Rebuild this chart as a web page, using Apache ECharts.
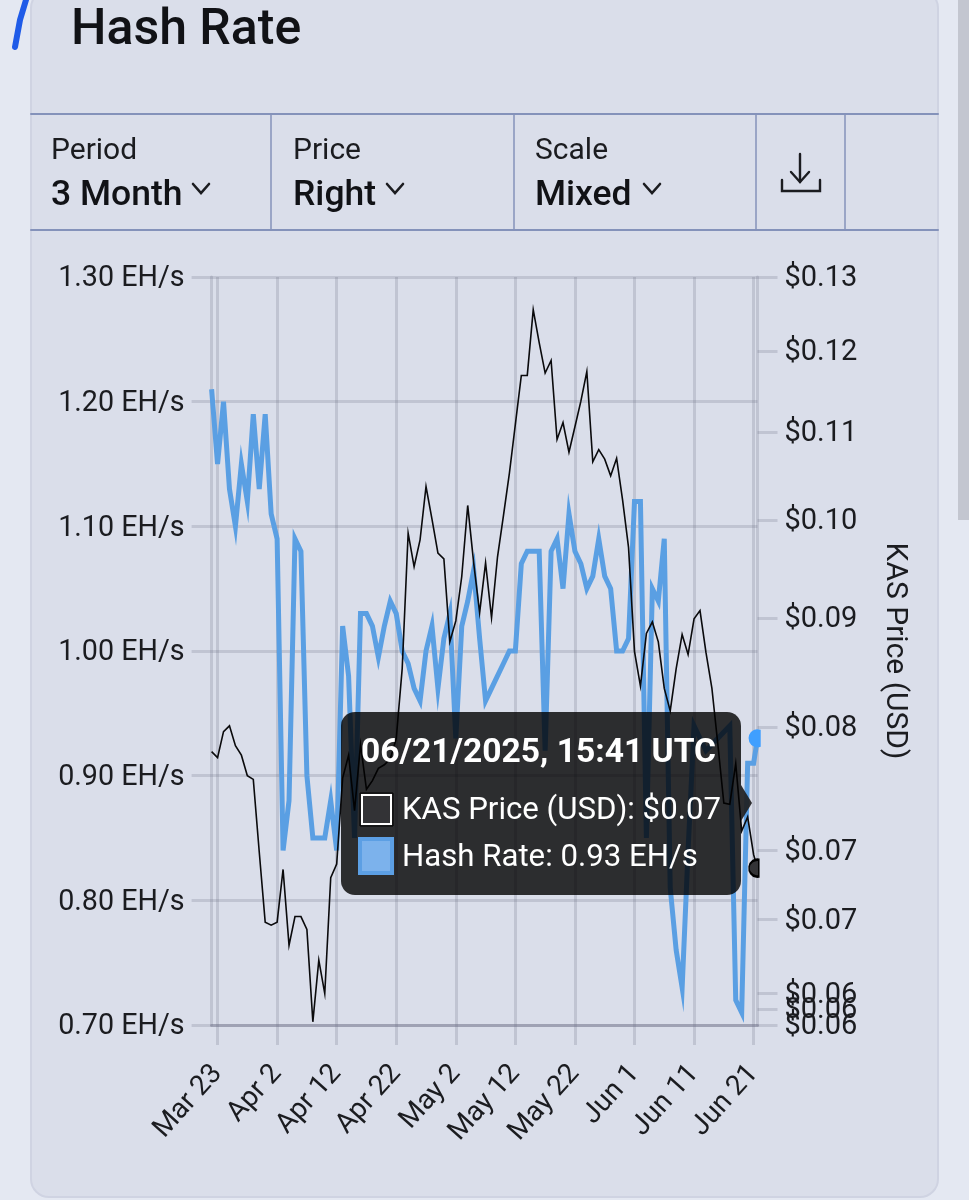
<!DOCTYPE html>
<html><head><meta charset="utf-8">
<style>html,body{margin:0;padding:0;background:#e4e8f2}#c{width:969px;height:1200px}</style>
<script src="https://cdn.jsdelivr.net/npm/echarts@6/dist/echarts.min.js"></script>
</head><body><div id="c"></div>
<script>
const startDay = Date.UTC(2025,2,22);
const lastTime = Date.UTC(2025,5,21,15,41);
const tickLabels = ['Mar 23','Apr 2','Apr 12','Apr 22','May 2','May 12','May 22','Jun 1','Jun 11','Jun 21'];
const tickDates = [[2,23],[3,2],[3,12],[3,22],[4,2],[4,12],[4,22],[5,1],[5,11],[5,21]];
const priceTicks = [0.13,0.12,0.11,0.10,0.09,0.08,0.07,0.065,0.06,0.059,0.05801,0.058];
const hashRate = [1.21,1.15,1.20,1.13,1.10,1.15,1.12,1.19,1.13,1.19,1.11,1.09,0.84,0.88,1.09,1.08,0.90,0.85,0.85,0.85,0.88,0.84,1.02,0.98,0.85,1.03,1.03,1.02,0.995,1.02,1.04,1.03,1.00,0.99,0.97,0.96,1.00,1.02,0.97,1.01,1.03,0.93,1.02,1.04,1.065,1.01,0.96,0.97,0.98,0.99,1.00,1.00,1.07,1.08,1.08,1.08,0.92,1.08,1.09,1.05,1.11,1.08,1.07,1.05,1.06,1.09,1.06,1.05,1.00,1.00,1.01,1.12,1.12,0.85,1.05,1.04,1.09,0.81,0.76,0.73,0.84,0.94,0.93,0.92,0.925,0.93,0.935,0.94,0.72,0.71,0.91,0.91,0.93];
const kasPrice = [.0779,.0774,.0796,.0801,.0784,.0776,.0759,.0756,.0699,.0648,.0646,.0648,.0686,.0632,.0652,.0652,.0643,.0582,.0622,.0600,.0680,.0690,.0757,.0776,.0731,.0785,.0748,.0755,.0765,.0768,.0773,.0790,.0852,.0986,.0951,.0979,.1037,.1001,.0965,.0959,.0877,.0897,.0941,.1016,.0955,.0905,.0955,.0900,.0961,.1005,.1052,.1109,.1169,.1169,.1255,.1211,.1172,.1188,.1091,.1111,.1076,.1106,.1137,.1174,.1065,.1079,.1068,.1049,.1069,.1022,.0971,.0868,.0836,.0885,.0896,.0877,.0834,.0814,.0852,.0884,.0865,.0899,.0907,.0867,.0834,.0785,.0737,.0736,.0769,.0715,.0726,.0697,.0687];

const DAY = 86400000;
const times = hashRate.map((_, i) => i === hashRate.length - 1 ? lastTime : startDay + i * DAY);
const tickTimes = tickDates.map(d => Date.UTC(2025, d[0], d[1]));
const pair = arr => arr.map((v, i) => [times[i], v]);

const INK = '#1b1c20', GRID = 'rgba(110,112,135,0.24)', RULE = '#8492ba', FONT = 'Roboto';
const lastHash = hashRate[hashRate.length - 1], lastPrice = kasPrice[kasPrice.length - 1];

const T = (x, y, text, size, weight, fill, align) => ({type:'text', z:100, silent:true,
  style:{x, y, text, fill: fill || INK, font:(weight||400)+' '+size+'px '+FONT, align: align||'left', verticalAlign:'middle'}});
const R = (x,y,w,h,fill,stroke,lw,r) => ({type:'rect', z:100, silent:true, shape:{x,y,width:w,height:h,r:r||0},
  style:{fill:fill||'none', stroke:stroke||'none', lineWidth:lw||0}});
const L = (pts,stroke,lw,z) => ({type:'polyline', z:z||100, silent:true, shape:{points:pts},
  style:{stroke,lineWidth:lw,fill:'none',lineCap:'round',lineJoin:'miter'}});

const graphics = [
  {...R(31,-10,907,1207,'#dadeea','#cfd3e2',2,18), z:-1},
  {...R(958,0,11,520,'#c3c6d0'), z:-1},
  L([[26,0],[20,20],[15,47]],'#1f5be8',6),
  T(71,31,'Hash Rate',50,500,'#111216'),
  L([[31,114],[938,114]],RULE,2), L([[31,230],[938,230]],RULE,2),
  L([[271,114],[271,230]],RULE,1.5), L([[514,114],[514,230]],RULE,1.5),
  L([[756,114],[756,230]],RULE,1.5), L([[845,114],[845,230]],RULE,1.5),
  T(51,151,'Period',30,400), T(51,196,'3 Month',35.5,500,'#111216'),
  T(293,151,'Price',30,400), T(293,196,'Right',35.5,500,'#111216'),
  T(535,151,'Scale',30,400), T(535,196,'Mixed',35.5,500,'#111216'),
  L([[193,184],[201,193],[209,184]],INK,2.6),
  L([[387,184],[395,193],[403,184]],INK,2.6),
  L([[644,184],[652,193],[660,184]],INK,2.6),
  L([[800,154],[800,182]],INK,2.4), L([[791,172],[800,182],[809,172]],INK,2.4),
  L([[782,180],[782,191],[820,191],[820,180]],INK,2.4),
  {type:'polygon', z:100, silent:true, shape:{points:[[741,785],[752,803],[741,821]]}, style:{fill:'rgba(30,30,32,0.92)'}},
  R(341,712,400,183,'rgba(0,0,0,0.8)',null,0,14),
  T(361,754,'06/21/2025, 15:41 UTC',33.6,700,'#ffffff'),
  R(362,795,29,29,'#333336','#ffffff',2),
  R(360,793,33,33,null,'#000000',1),
  T(402,811,'KAS Price (USD): $0.07',31.2,400,'#ffffff'),
  R(360,839,32,34,'#7cb2ec','#5c9fe4',4),
  T(402,858,'Hash Rate: 0.93 EH/s',31.2,400,'#ffffff')
];

const chart = echarts.init(document.getElementById('c'), null, {renderer:'canvas'});
chart.setOption({
  animation:false,
  backgroundColor:'transparent',
  textStyle:{fontFamily:FONT},
  grid:{left:211.6,right:211.5,top:277,bottom:175,containLabel:false},
  xAxis:{type:'value',min:startDay,max:lastTime,
    axisLine:{show:true,onZero:false,lineStyle:{color:'rgba(110,112,135,0.4)',width:3}},
    axisTick:{show:true,length:20,customValues:tickTimes,lineStyle:{color:GRID,width:3}},
    splitLine:{show:true,lineStyle:{color:GRID,width:3}},
    minorTick:{show:false},
    axisLabel:{customValues:tickTimes,rotate:48,margin:44,fontSize:28,color:INK,hideOverlap:false,
      formatter:v=>tickLabels[tickTimes.indexOf(v)]||''}},
  yAxis:[
   {type:'value',min:0.7,max:1.3,interval:0.1,position:'left',
    axisLine:{show:true,lineStyle:{color:GRID,width:3}},
    axisTick:{show:true,length:20,lineStyle:{color:GRID,width:3}},
    splitLine:{show:true,lineStyle:{color:GRID,width:3}},
    axisLabel:{margin:27,color:INK,formatter:v=>'{a|'+v.toFixed(2)+' EH/s}',
      rich:{a:{fontSize:28.7,color:INK,fontFamily:FONT,padding:[4,0,0,0]}}}},
   {type:'log',logBase:Math.E,min:0.058,max:0.13,position:'right',
    name:'KAS Price (USD)',nameLocation:'middle',nameRotate:-90,nameGap:122,
    nameTextStyle:{fontSize:30,color:INK,fontFamily:FONT},
    axisLine:{show:true,lineStyle:{color:GRID,width:3}},
    axisTick:{show:true,length:20,customValues:priceTicks,lineStyle:{color:GRID,width:3}},
    splitLine:{show:false},minorTick:{show:false},
    axisLabel:{customValues:priceTicks,margin:27,color:INK,showMinLabel:true,showMaxLabel:true,hideOverlap:false,
      formatter:v=>'{a|$'+v.toFixed(2)+'}',
      rich:{a:{fontSize:29,color:INK,fontFamily:FONT,padding:[4,0,0,0]}}}}
  ],
  series:[
   {name:'Hash Rate',type:'line',yAxisIndex:0,data:pair(hashRate),showSymbol:false,clip:false,
    lineStyle:{color:'#5a9fe3',width:5,join:'miter',miterLimit:10},itemStyle:{color:'#5a9fe3'},z:2,
    markPoint:{silent:true,data:[{coord:[lastTime,lastHash]}],symbol:'path://M3.2 -8.4A9 9 0 1 0 3.2 8.4Z',
      symbolSize:[12.2,18],symbolOffset:[-2.9,0],itemStyle:{color:'#3f9fff'},label:{show:false}}},
   {name:'KAS Price (USD)',type:'line',yAxisIndex:1,data:pair(kasPrice),showSymbol:false,clip:false,
    lineStyle:{color:'#0a0a0c',width:1.6,join:'miter',miterLimit:10},itemStyle:{color:'#0a0a0c'},z:3,
    markPoint:{silent:true,data:[{coord:[lastTime,lastPrice]}],symbol:'path://M1.3 -8.4A8.5 8.5 0 1 0 1.3 8.4Z',
      symbolSize:[9.8,17],symbolOffset:[-3.6,0],itemStyle:{color:'#333336',borderColor:'#000',borderWidth:2},label:{show:false}}}
  ],
  graphic:{elements:graphics}
});
</script></body></html>
